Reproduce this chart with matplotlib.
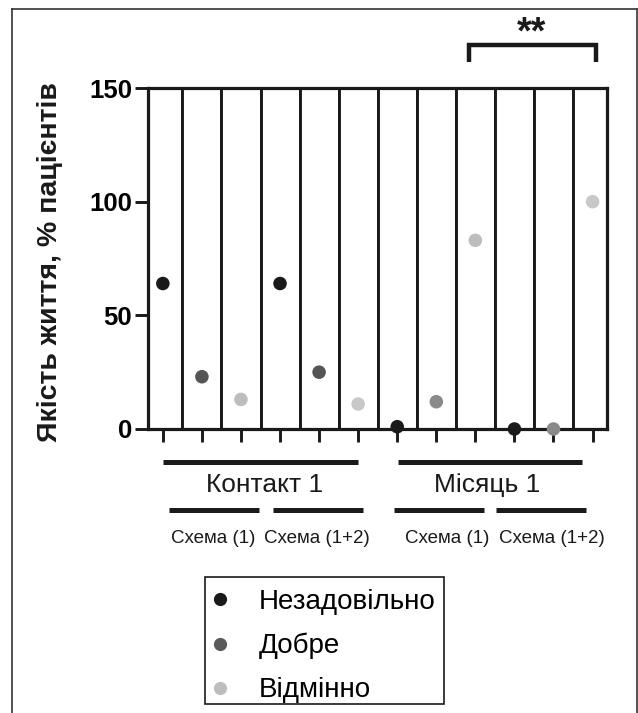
import matplotlib
matplotlib.use("Agg")
import matplotlib.pyplot as plt
from matplotlib.transforms import blended_transform_factory
from matplotlib.lines import Line2D
from matplotlib.patches import Rectangle

plt.rcParams['font.family'] = ['Liberation Sans', 'DejaVu Sans']

# ---- data ----
positions = list(range(12))
series_names = ['Незадовільно', 'Добре', 'Відмінно']
x_poor = [0, 3, 6, 9]
y_poor = [64, 64, 1, 0]
x_good = [1, 4, 7, 10]
y_good = [23, 25, 12, 0]
x_exc = [2, 5, 8, 11]
y_exc = [13, 11, 83, 100]
col_poor = ['#1a1a1a'] * 4
col_good = ['#555555', '#555555', '#8a8a8a', '#8a8a8a']
col_exc = ['#bdbdbd', '#c8c8c8', '#bdbdbd', '#c8c8c8']
legend_colors = ['#1a1a1a', '#5a5a5a', '#bdbdbd']
y_ticks = [0, 50, 100, 150]
y_max = 150
ylabel = 'Якість життя, % пацієнтів'
groups = ['Контакт 1', 'Місяць 1']
subgroups = ['Схема (1)', 'Схема (1+2)', 'Схема (1)', 'Схема (1+2)']
sig_label = '**'

W, H = 638, 713
fig = plt.figure(figsize=(W / 100, H / 100), dpi=100)
ax = fig.add_axes([148 / W, 1 - 429 / H, (607 - 148) / W, (429 - 88) / H])

# column frames
ax.bar(positions, [y_max] * len(positions), width=1.0, color='white',
       edgecolor='#1a1a1a', linewidth=2.1, zorder=1)

ms = 95
ax.scatter(x_poor, y_poor, s=ms, c=col_poor, zorder=3, clip_on=False, linewidths=0)
ax.scatter(x_good, y_good, s=ms, c=col_good, zorder=3, clip_on=False, linewidths=0)
ax.scatter(x_exc, y_exc, s=ms, c=col_exc, zorder=3, clip_on=False, linewidths=0)

ax.set_xlim(-0.38, 11.37)
ax.set_ylim(0, y_max)
ax.set_yticks(y_ticks)
ax.set_yticklabels([str(t) for t in y_ticks], fontsize=18.5, fontweight='bold')
ax.set_xticks(positions)
ax.set_xticklabels([''] * len(positions))
ax.tick_params(axis='both', length=9.5, width=2.1, color='#1a1a1a', pad=2)
for s in ax.spines.values():
    s.set_linewidth(2.3)
    s.set_color('#1a1a1a')

fig.text(50 / W, 1 - 262 / H, ylabel, rotation=90, ha='center', va='center',
         fontsize=20.5, fontweight='bold', color='#1a1a1a')

# group lines and labels
tr = blended_transform_factory(ax.transData, fig.transFigure)
lw_g = 3.6
top_lines = [(0.0, 4.99), (6.01, 10.74)]
for (a, b) in top_lines:
    fig.add_artist(Line2D([a, b], [1 - 461.5 / H] * 2, transform=tr, color='#1a1a1a', lw=lw_g,
                          solid_capstyle='butt'))
grp_x = [2.61, 8.29]
for gx, g in zip(grp_x, groups):
    fig.text(gx, 1 - 492 / H, g, transform=tr, ha='center', va='baseline', fontsize=19,
             color='#1a1a1a')
sub_lines = [(0.15, 2.46), (2.81, 5.12), (5.91, 8.21), (8.52, 10.82)]
for (a, b) in sub_lines:
    fig.add_artist(Line2D([a, b], [1 - 509.5 / H] * 2, transform=tr, color='#1a1a1a', lw=lw_g,
                          solid_capstyle='butt'))
sub_x = [1.28, 3.94, 7.27, 9.95]
for sx, sgl in zip(sub_x, subgroups):
    fig.text(sx, 1 - 543 / H, sgl, transform=tr, ha='center', va='baseline', fontsize=13.5,
             color='#1a1a1a')

# significance bracket
bx0, bx1 = 7.85, 11.10
by, byl = 169.0, 161.5
ax.plot([bx0, bx0, bx1, bx1], [byl, by, by, byl], color='#1a1a1a', lw=3.2,
        clip_on=False, solid_joinstyle='miter', solid_capstyle='butt')
fig.text(9.44, 1 - 43 / H, sig_label, transform=tr, ha='center', va='baseline',
         fontsize=27, fontweight='bold', color='#1a1a1a')

# legend (entries without frame, frame drawn separately)
handles = [Line2D([], [], marker='o', linestyle='none', markersize=9.5,
                  markerfacecolor=c, markeredgewidth=0) for c in legend_colors]
leg = fig.legend(handles, series_names, loc='upper left',
                 bbox_to_anchor=(205 / W, 1 - 581 / H), fontsize=20, frameon=False,
                 handletextpad=1.15, labelspacing=0.65, borderpad=0.28,
                 handlelength=0.5, borderaxespad=0)
fig.add_artist(Rectangle((205 / W, 1 - 704 / H), (444 - 205) / W, (704 - 577) / H,
                         transform=fig.transFigure, fill=False, edgecolor='#1a1a1a', lw=1.2))

# outer frame
fc = '#333333'
fig.add_artist(Line2D([12 / W, 12 / W], [0, 1 - 9 / H], transform=fig.transFigure, color=fc, lw=1.2))
fig.add_artist(Line2D([12 / W, 636.5 / W], [1 - 9 / H, 1 - 9 / H], transform=fig.transFigure, color=fc, lw=1.2))
fig.add_artist(Line2D([636.5 / W, 636.5 / W], [0, 1 - 9 / H], transform=fig.transFigure, color=fc, lw=1.2))

fig.savefig('out.png', dpi=100, facecolor='white')
